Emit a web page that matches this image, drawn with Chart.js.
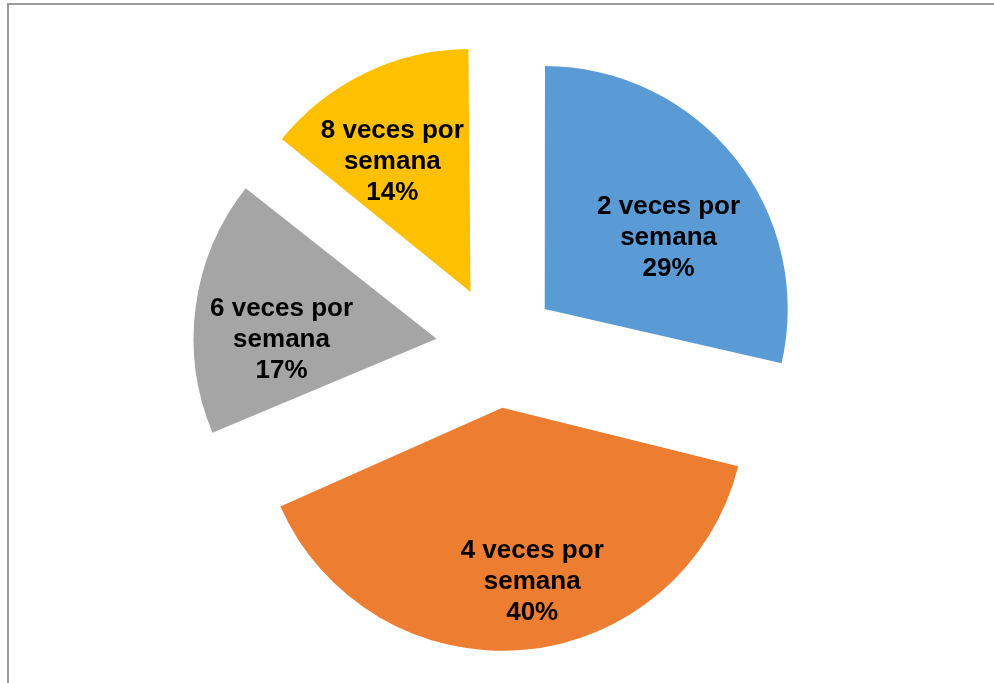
<!DOCTYPE html>
<html>
<head>
<meta charset="utf-8">
<script src="https://cdn.jsdelivr.net/npm/chart.js@4.4.1/dist/chart.umd.min.js"></script>
<style>
  html, body { margin: 0; padding: 0; background: #fff; }
  #wrap { position: relative; width: 994px; height: 683px; overflow: hidden; }
  #frame { position: absolute; left: 7px; top: 3px; right: -10px; bottom: -10px;
           border-left: 2px solid #9a9a9a; border-top: 2px solid #9a9a9a; }
  canvas { position: absolute; left: 0; top: 0; }
</style>
</head>
<body>
<div id="wrap">
  <div id="frame"></div>
  <canvas id="pieChart" width="994" height="683"></canvas>
</div>
<script>
// data (slice shares)
const categories = ['2 veces por semana', '4 veces por semana', '6 veces por semana', '8 veces por semana'];
const labelLines = [['2 veces por', 'semana'], ['4 veces por', 'semana'], ['6 veces por', 'semana'], ['8 veces por', 'semana']];
const shares = [28.6, 40.0, 17.1, 14.3];
const sliceColors = ['#5B9BD5', '#ED7D31', '#A5A5A5', '#FFC000'];

const RADIUS = 243;
// how far every slice is pulled out of the pie, in px
const EXPLODE = 61;
// where the label sits in its slice: share of the radius, turn off the mid angle (deg)
const labelPlace = [
    { r: 0.588, turn: 8.6 },
    { r: 0.726, turn: -4.7 },
    { r: 0.638, turn: -8.3 },
    { r: 0.626, turn: -5.2 }
];

// chart.js v4 pushes an arc out by offset/4 and also grows its radius by offset/4 * fix,
// so shrink each arc back to keep all slices the same size
function arcFix(circ) {
    return 1 - Math.sin(Math.min(Math.PI, circ));
}

const evenRadius = {
    id: 'evenRadius',
    beforeDatasetsDraw(chart) {
        chart.getDatasetMeta(0).data.forEach(arc => {
            arc.outerRadius = RADIUS - EXPLODE * arcFix(arc.endAngle - arc.startAngle);
        });
    }
};

const sliceLabels = {
    id: 'sliceLabels',
    afterDatasetsDraw(chart) {
        const ctx = chart.ctx;
        const meta = chart.getDatasetMeta(0);
        ctx.save();
        ctx.font = 'bold 26px "Liberation Sans", Arial, sans-serif';
        ctx.fillStyle = '#000';
        ctx.textAlign = 'center';
        ctx.textBaseline = 'alphabetic';
        meta.data.forEach((arc, i) => {
            const half = (arc.startAngle + arc.endAngle) / 2;
            const ax = arc.x + Math.cos(half) * EXPLODE;
            const ay = arc.y + Math.sin(half) * EXPLODE;
            const place = labelPlace[i];
            const ang = half + place.turn * Math.PI / 180;
            const lx = ax + Math.cos(ang) * place.r * RADIUS;
            const ly = ay + Math.sin(ang) * place.r * RADIUS;
            const lines = labelLines[i].concat([Math.round(shares[i]) + '%']);
            const lh = 31;
            lines.forEach((t, k) => {
                ctx.fillText(t, lx, ly + 7 + (k - (lines.length - 1) / 2) * lh);
            });
        });
        ctx.restore();
    }
};

new Chart(document.getElementById('pieChart'), {
    type: 'pie',
    data: {
        labels: categories,
        datasets: [{
            data: shares,
            backgroundColor: sliceColors,
            borderWidth: 0,
            offset: EXPLODE * 4,
            hoverOffset: 0
        }]
    },
    options: {
        responsive: false,
        animation: false,
        radius: RADIUS,
        layout: { padding: { left: 0, right: 0, top: 11, bottom: 0 } },
        plugins: {
            legend: { display: false },
            tooltip: { enabled: false }
        }
    },
    plugins: [evenRadius, sliceLabels]
});
</script>
</body>
</html>
